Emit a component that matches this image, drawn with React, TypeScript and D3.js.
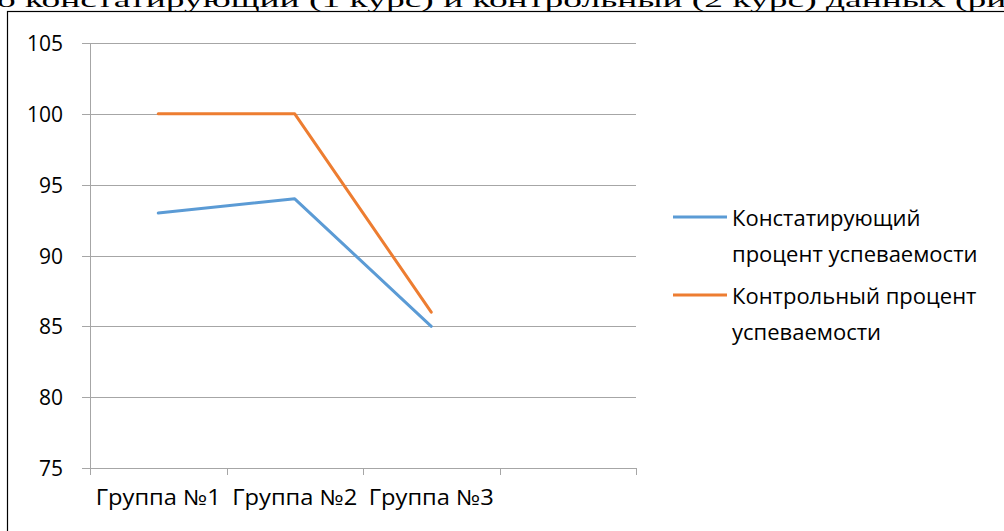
import { useEffect, useRef } from 'react';
import * as d3 from 'd3';

const categories = ['Группа №1', 'Группа №2', 'Группа №3'];
const slotCount = 4; // the axis keeps one empty slot after the last group
const ascertaining = [93, 94, 85];
const control = [100, 100, 86];
const yTicks = [75, 80, 85, 90, 95, 100, 105];
const seriesNames = [
  ['Констатирующий', 'процент успеваемости'],
  ['Контрольный процент', 'успеваемости'],
];
const seriesColors = ['#5B9BD5', '#ED7D31'];
const headerText = 'о констатирующий (1 курс) и контрольный (2 курс) данных (рис';

export default function App() {
  const svgRef = useRef<SVGSVGElement>(null);
  const width = 1004;
  const height = 531;

  useEffect(() => {
    const svg = d3.select(svgRef.current);
    svg.selectAll('*').remove();

    const font = '"Open Sans", sans-serif';

    // page text cut off at the top
    svg.append('text')
      .attr('x', -3)
      .attr('y', 6.5)
      .attr('fill', '#000')
      .attr('textLength', 1026)
      .attr('lengthAdjust', 'spacingAndGlyphs')
      .style('font-family', '"Liberation Serif", "Times New Roman", serif')
      .style('font-size', '22px')
      .text(headerText);

    // chart frame
    svg.append('rect')
      .attr('x', 7.5)
      .attr('y', 11.5)
      .attr('width', 1010)
      .attr('height', 540)
      .attr('fill', 'white')
      .attr('stroke', '#000')
      .attr('stroke-width', 1.2);

    const x = d3.scaleLinear().domain([0, slotCount]).range([90, 636]);
    const y = d3.scaleLinear().domain([75, 105]).range([468, 43]);

    const g = svg.append('g');

    yTicks.forEach(t => {
      g.append('line')
        .attr('x1', 82)
        .attr('x2', x(slotCount))
        .attr('y1', Math.round(y(t)) + 0.5)
        .attr('y2', Math.round(y(t)) + 0.5)
        .attr('stroke', '#A6A6A6')
        .attr('stroke-width', 1);
      g.append('text')
        .attr('x', 63)
        .attr('y', y(t))
        .attr('text-anchor', 'end')
        .attr('dominant-baseline', 'central')
        .attr('fill', '#000')
        .style('font-family', font)
        .style('font-size', '21px')
        .text(t);
    });

    // y axis line
    g.append('line')
      .attr('x1', x(0) + 0.5)
      .attr('x2', x(0) + 0.5)
      .attr('y1', y(105))
      .attr('y2', y(75))
      .attr('stroke', '#A6A6A6');

    // category ticks
    d3.range(slotCount + 1).forEach(i => {
      g.append('line')
        .attr('x1', Math.round(x(i)) + 0.5)
        .attr('x2', Math.round(x(i)) + 0.5)
        .attr('y1', y(75))
        .attr('y2', y(75) + 7)
        .attr('stroke', '#A6A6A6');
    });

    categories.forEach((c, i) => {
      g.append('text')
        .attr('x', x(i + 0.5))
        .attr('y', 497)
        .attr('text-anchor', 'middle')
        .attr('dominant-baseline', 'central')
        .attr('fill', '#000')
        .attr('textLength', 125)
        .attr('lengthAdjust', 'spacingAndGlyphs')
        .style('font-family', font)
        .style('font-size', '21px')
        .text(c);
    });

    const line = d3.line<number>()
      .x((d, i) => x(i + 0.5))
      .y(d => y(d));

    [ascertaining, control].forEach((values, k) => {
      g.append('path')
        .datum(values)
        .attr('d', line)
        .attr('fill', 'none')
        .attr('stroke', seriesColors[k])
        .attr('stroke-width', 3)
        .attr('stroke-linejoin', 'round')
        .attr('stroke-linecap', 'round');
    });

    // legend
    const legendTop = [217, 295];
    seriesNames.forEach((lines, k) => {
      const ly = legendTop[k];
      g.append('line')
        .attr('x1', 673)
        .attr('x2', 727)
        .attr('y1', ly)
        .attr('y2', ly)
        .attr('stroke', seriesColors[k])
        .attr('stroke-width', 3);
      lines.forEach((txt, j) => {
        g.append('text')
          .attr('x', 732)
          .attr('y', ly + j * 36)
          .attr('dominant-baseline', 'central')
          .attr('fill', '#000')
          .style('font-family', font)
          .style('font-size', '22px')
          .text(txt);
      });
    });
  }, []);

  return (
    <svg
      ref={svgRef}
      width={width}
      height={height}
      style={{ position: 'absolute', left: 0, top: 0, background: 'white' }}
    ></svg>
  );
}
